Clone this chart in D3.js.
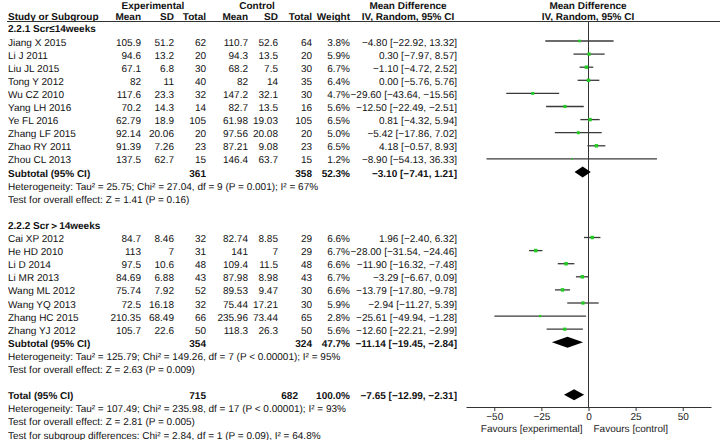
<!DOCTYPE html>
<html><head><meta charset="utf-8">
<script src="https://cdn.jsdelivr.net/npm/d3@7"></script>
<style>
body{margin:0;background:#fff;}
svg{display:block;font-family:"Liberation Sans",Arial,sans-serif;font-size:10px;text-rendering:geometricPrecision;}
</style></head><body>
<svg id="c" width="720" height="440"></svg>
<script>
// ---------- data ----------
const g1Studies = ["Jiang X 2015","Li J 2011","Liu JL 2015","Tong Y 2012","Wu CZ 2010","Yang LH 2016","Ye FL 2016","Zhang LF 2015","Zhao RY 2011","Zhou CL 2013"];
const g1EMean = ["105.9","94.6","67.1","82","117.6","70.2","62.79","92.14","91.39","137.5"];
const g1ESD   = ["51.2","13.2","6.8","11","23.3","14.3","18.9","20.06","7.26","62.7"];
const g1EN    = [62,20,30,40,32,14,105,20,23,15];
const g1CMean = ["110.7","94.3","68.2","82","147.2","82.7","61.98","97.56","87.21","146.4"];
const g1CSD   = ["52.6","13.5","7.5","14","32.1","13.5","19.03","20.08","9.08","63.7"];
const g1CN    = [64,20,30,35,30,16,105,20,23,15];
const g1Weight= [3.8,5.9,6.7,6.4,4.7,5.6,6.5,5.0,6.5,1.2];
const g1MD    = [-4.80,0.30,-1.10,0.00,-29.60,-12.50,0.81,-5.42,4.18,-8.90];
const g1Lo    = [-22.92,-7.97,-4.72,-5.76,-43.64,-22.49,-4.32,-17.86,-0.57,-54.13];
const g1Hi    = [13.32,8.57,2.52,5.76,-15.56,-2.51,5.94,7.02,8.93,36.33];

const g2Studies = ["Cai XP 2012","He HD 2010","Li D 2014","Li MR 2013","Wang ML 2012","Wang YQ 2013","Zhang HC 2015","Zhang YJ 2012"];
const g2EMean = ["84.7","113","97.5","84.69","75.74","72.5","210.35","105.7"];
const g2ESD   = ["8.46","7","10.6","6.88","7.92","16.18","68.49","22.6"];
const g2EN    = [32,31,48,43,52,32,66,50];
const g2CMean = ["82.74","141","109.4","87.98","89.53","75.44","235.96","118.3"];
const g2CSD   = ["8.85","7","11.5","8.98","9.47","17.21","73.44","26.3"];
const g2CN    = [29,29,48,43,30,30,65,50];
const g2Weight= [6.6,6.7,6.6,6.7,6.6,5.9,2.8,5.6];
const g2MD    = [1.96,-28.00,-11.90,-3.29,-13.79,-2.94,-25.61,-12.60];
const g2Lo    = [-2.40,-31.54,-16.32,-6.67,-17.80,-11.27,-49.94,-22.21];
const g2Hi    = [6.32,-24.46,-7.48,0.09,-9.78,5.39,-1.28,-2.99];

const groupTitles = ["2.2.1 Scr\u226414weeks","2.2.2 Scr\uFF1E14weeks"];
const subtotalN   = [[361,358],[354,324]];
const subtotalW   = ["52.3%","47.7%"];
const subtotalMD  = [[-3.10,-7.41,1.21],[-11.14,-19.45,-2.84]];
const subtotalHet = ["Heterogeneity: Tau\u00B2 = 25.75; Chi\u00B2 = 27.04, df = 9 (P = 0.001); I\u00B2 = 67%",
                     "Heterogeneity: Tau\u00B2 = 125.79; Chi\u00B2 = 149.26, df = 7 (P < 0.00001); I\u00B2 = 95%"];
const subtotalZ   = ["Test for overall effect: Z = 1.41 (P = 0.16)","Test for overall effect: Z = 2.63 (P = 0.009)"];
const totalN  = [715,682];
const totalMD = [-7.65,-12.99,-2.31];
const totalText = ["Heterogeneity: Tau\u00B2 = 107.49; Chi\u00B2 = 235.98, df = 17 (P < 0.00001); I\u00B2 = 93%",
                   "Test for overall effect: Z = 2.81 (P = 0.005)",
                   "Test for subgroup differences: Chi\u00B2 = 2.84, df = 1 (P = 0.09), I\u00B2 = 64.8%"];
const axisTicks = [-50,-25,0,25,50];
const favours = ["Favours [experimental]","Favours [control]"];

// ---------- layout ----------
const svg = d3.select("#c");
const x = d3.scaleLinear().domain([-65,65]).range([466,711]);
const row0 = 41, rowH = 13.1;
const rowY = i => row0 + i*rowH;
const tOff = 4.5;
const col = {eMean:141,eSD:174,eN:206,cMean:248,cSD:278,cN:312,w:350,ci:457,name:8};
const txtColor = "#111";
const fmt = d3.format(".2f");
const ciStr = (m,l,h) => `${fmt(m)} [${fmt(l)}, ${fmt(h)}]`;

function text(xp, y, s, anchor="start", bold=false, color=txtColor){
  svg.append("text").attr("x",xp).attr("y",y).attr("text-anchor",anchor)
    .attr("font-weight",bold?"bold":"normal").attr("fill",color).text(s);
}

// headers
text(153, 9, "Experimental", "middle", true);
text(257, 9, "Control", "middle", true);
text(408, 9, "Mean Difference", "middle", true);
text(588, 9, "Mean Difference", "middle", true);
text(col.name, 19.5, "Study or Subgroup", "start", true);
text(col.eMean, 19.5, "Mean", "end", true);
text(col.eSD, 19.5, "SD", "end", true);
text(col.eN, 19.5, "Total", "end", true);
text(col.cMean, 19.5, "Mean", "end", true);
text(col.cSD, 19.5, "SD", "end", true);
text(col.cN, 19.5, "Total", "end", true);
text(col.w, 19.5, "Weight", "end", true);
text(408, 19.5, "IV, Random, 95% CI", "middle", true);
text(588, 19.5, "IV, Random, 95% CI", "middle", true);
svg.append("line").attr("x1",7).attr("x2",720).attr("y1",21.5).attr("y2",21.5)
  .attr("stroke","#333").attr("stroke-width",1);

const axisY = 407;
// zero line
svg.append("line").attr("x1",x(0)).attr("x2",x(0)).attr("y1",21.5).attr("y2",axisY)
  .attr("stroke","#333").attr("stroke-width",1);

function diamond(y, m, l, h){
  const hh = 5.5;
  svg.append("path")
    .attr("d",`M${x(l)},${y} L${x(m)},${y-hh} L${x(h)},${y} L${x(m)},${y+hh} Z`)
    .attr("fill","#000");
}

function drawGroup(gi, startIdx, studies, eM, eS, eN, cM, cS, cN, w, md, lo, hi){
  text(col.name, rowY(startIdx-1)+tOff, groupTitles[gi], "start", true);
  studies.forEach((s,k)=>{
    const y = rowY(startIdx+k);
    text(col.name, y+tOff, s);
    text(col.eMean, y+tOff, eM[k], "end");
    text(col.eSD, y+tOff, eS[k], "end");
    text(col.eN, y+tOff, eN[k], "end");
    text(col.cMean, y+tOff, cM[k], "end");
    text(col.cSD, y+tOff, cS[k], "end");
    text(col.cN, y+tOff, cN[k], "end");
    text(col.w, y+tOff, w[k].toFixed(1)+"%", "end");
    text(col.ci, y+tOff, ciStr(md[k],lo[k],hi[k]), "end");
    svg.append("line").attr("x1",x(lo[k])).attr("x2",x(hi[k])).attr("y1",y).attr("y2",y)
      .attr("stroke","#3a3a3a").attr("stroke-width",1.3);
    const sz = Math.sqrt(w[k])*1.35;
    svg.append("rect").attr("x",x(md[k])-sz/2).attr("y",y-sz/2).attr("width",sz).attr("height",sz)
      .attr("fill","#22cc22");
  });
  const sIdx = startIdx + studies.length;
  const ys = rowY(sIdx);
  text(col.name, ys+tOff, "Subtotal (95% CI)", "start", true);
  text(col.eN, ys+tOff, subtotalN[gi][0], "end", true);
  text(col.cN, ys+tOff, subtotalN[gi][1], "end", true);
  text(col.w, ys+tOff, subtotalW[gi], "end", true);
  const sm = subtotalMD[gi];
  text(col.ci, ys+tOff, ciStr(sm[0],sm[1],sm[2]), "end", true);
  diamond(ys, sm[0], sm[1], sm[2]);
  text(col.name, rowY(sIdx+1)+tOff, subtotalHet[gi]);
  text(col.name, rowY(sIdx+2)+tOff, subtotalZ[gi]);
}

drawGroup(0, 0, g1Studies, g1EMean, g1ESD, g1EN, g1CMean, g1CSD, g1CN, g1Weight, g1MD, g1Lo, g1Hi);
drawGroup(1, 15, g2Studies, g2EMean, g2ESD, g2EN, g2CMean, g2CSD, g2CN, g2Weight, g2MD, g2Lo, g2Hi);

// total
const yt = rowY(27);
text(col.name, yt+tOff, "Total (95% CI)", "start", true);
text(col.eN, yt+tOff, totalN[0], "end", true);
text(298, yt+tOff, totalN[1], "end", true);
text(col.w, yt+tOff, "100.0%", "end", true);
text(col.ci, yt+tOff, ciStr(totalMD[0],totalMD[1],totalMD[2]), "end", true);
diamond(yt, totalMD[0], totalMD[1], totalMD[2]);
totalText.forEach((s,k)=> text(col.name, rowY(28+k)+tOff, s));

// axis
const ax = svg.append("g").attr("transform",`translate(0,${axisY})`)
  .call(d3.axisBottom(x).tickValues(axisTicks).tickSize(4).tickSizeOuter(0).tickFormat(d3.format("d")).tickPadding(2));
ax.select(".domain").attr("stroke","#333");
ax.selectAll(".tick line").attr("stroke","#333");
ax.selectAll(".tick text").attr("font-size","10px").attr("font-family","'Liberation Sans',Arial,sans-serif").attr("fill","#222");
text(x(0)-6, 432, favours[0], "end", false, "#222");
text(x(0)+5, 432, favours[1], "start", false, "#222");
</script>
</body></html>
